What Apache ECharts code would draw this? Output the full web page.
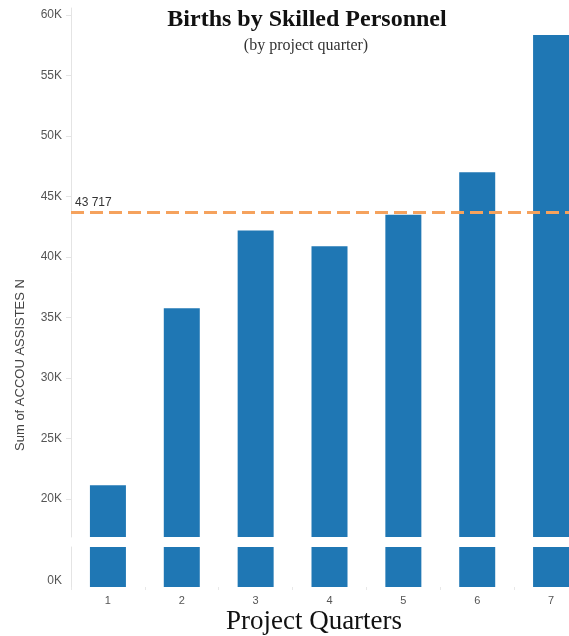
<!DOCTYPE html>
<html>
<head>
<meta charset="utf-8">
<script src="https://cdn.jsdelivr.net/npm/echarts@6/dist/echarts.min.js"></script>
<style>
html,body{margin:0;padding:0;overflow:hidden;background:#fff;}
#chart{width:590px;height:636px;}
</style>
</head>
<body>
<div id="chart"></div>
<script>
const quarters = ['1','2','3','4','5','6','7'];
const births = [21150, 35780, 42200, 40900, 43500, 47000, 58350];
const referenceValue = 43717;
const yTickValues = [20000, 25000, 30000, 35000, 40000, 45000, 50000, 55000, 60000];
const titleText = 'Births by Skilled Personnel';
const subtitleText = '(by project quarter)';
const yAxisTitle = 'Sum of ACCOU ASSISTES N';
const xAxisTitle = 'Project Quarters';

const chart = echarts.init(document.getElementById('chart'));
const barColor = '#1f77b4';
const axisGray = '#e4e4e4';
const sans = 'Liberation Sans, Arial, sans-serif';
const serif = 'Liberation Serif, Times New Roman, serif';
const xLabelStyle = {color: '#555', fontSize: 11, fontFamily: sans};
const yLabelStyle = {color: '#555', fontSize: 12, fontFamily: sans};

chart.setOption({
  animation: false,
  backgroundColor: '#fff',
  graphic: [
    {type: 'text', x: 307, y: 20,
     style: {text: titleText, fill: '#111', fontSize: 24, fontWeight: 'bold', fontFamily: serif, align: 'center', verticalAlign: 'middle'}},
    {type: 'text', x: 306, y: 46,
     style: {text: subtitleText, fill: '#333', fontSize: 16, fontFamily: serif, align: 'center', verticalAlign: 'middle'}},
    {type: 'text', x: 20, y: 365, rotation: Math.PI / 2,
     style: {text: yAxisTitle, fill: '#444', fontSize: 13, fontFamily: sans, align: 'center', verticalAlign: 'middle'}},
    {type: 'text', x: 314, y: 622,
     style: {text: xAxisTitle, fill: '#111', fontSize: 27, fontFamily: serif, align: 'center', verticalAlign: 'middle'}}
  ],
  grid: [
    {left: 71, right: 2, top: 8, height: 529},
    {left: 71, right: 2, top: 547, height: 40}
  ],
  xAxis: [
    {type: 'category', gridIndex: 0, data: quarters, show: false},
    {type: 'category', gridIndex: 1, data: quarters,
     axisLine: {show: false},
     axisTick: {show: true, length: 3, lineStyle: {color: '#e8e8e8'}},
     axisLabel: Object.assign({margin: 8}, xLabelStyle)}
  ],
  yAxis: [
    {type: 'value', gridIndex: 0, min: 16870, max: 60580,
     splitLine: {show: false},
     axisLine: {show: true, lineStyle: {color: axisGray}},
     axisTick: {show: true, length: 5, lineStyle: {color: axisGray}, customValues: yTickValues},
     axisLabel: Object.assign({margin: 9, customValues: yTickValues, formatter: v => Math.round(v / 1000) + 'K'}, yLabelStyle)},
    {type: 'value', gridIndex: 1, min: 0, max: 1000,
     splitLine: {show: false},
     axisLine: {show: true, lineStyle: {color: axisGray}},
     axisTick: {show: false, customValues: [0]},
     axisLabel: Object.assign({margin: 9, customValues: [0], verticalAlign: 'bottom', formatter: v => '0K'}, yLabelStyle)}
  ],
  series: [
    {type: 'bar', xAxisIndex: 0, yAxisIndex: 0, data: births, barWidth: 36, clip: true,
     itemStyle: {color: barColor},
     markLine: {
       silent: true, symbol: 'none',
       data: [{yAxis: referenceValue}],
       lineStyle: {color: '#f5a25d', type: [13, 6], width: 3},
       label: {position: 'insideStartTop', formatter: '43 717', color: '#333', fontSize: 12, fontFamily: sans, distance: [4, 3]}
     }},
    {type: 'bar', xAxisIndex: 1, yAxisIndex: 1, data: births, barWidth: 36, clip: true,
     itemStyle: {color: barColor}}
  ]
});
</script>
</body>
</html>
